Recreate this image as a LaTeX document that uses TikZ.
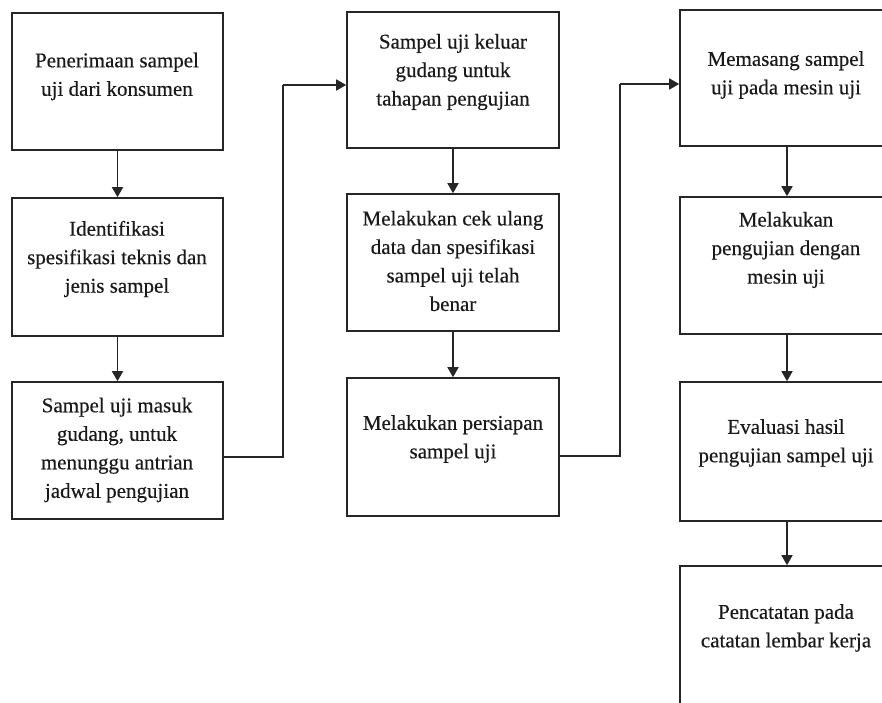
\documentclass[tikz,border=0pt]{standalone}
\usepackage{fontspec}
\setmainfont{Liberation Serif}[FakeBold=0.4]
\usetikzlibrary{arrows.meta}
\definecolor{ln}{HTML}{262626}
\definecolor{tx}{HTML}{1A1A1A}
\begin{document}
\begin{tikzpicture}[x=1pt,y=-1pt,
  box/.style={draw=ln,line width=1.6pt,rectangle,inner sep=0pt,minimum width=#1},
  box/.default=211pt,
  lbl/.style={align=center,text=tx,inner sep=0pt,font=\fontsize{21}{28.5}\selectfont},
  arr/.style={draw=ln,line width=1.6pt,-{Triangle[length=10pt,width=11pt]}},
  con/.style={draw=ln,line width=1.6pt}]
\useasboundingbox (0,0) rectangle (882,702);
\clip (0,0) rectangle (882,702);
% column 1
\node[box,minimum height=137pt] (b1) at (117.5,81.5) {};
\node[box,minimum height=138pt] (b2) at (117.5,267) {};
\node[box,minimum height=137pt] (b3) at (117.5,450.5) {};
% column 2
\node[box=212pt,minimum height=136pt] (b4) at (453,80) {};
\node[box=212pt,minimum height=137pt] (b5) at (453,262.5) {};
\node[box=212pt,minimum height=138pt] (b6) at (453,447) {};
% column 3
\node[box=214pt,minimum height=136pt] (b7) at (787,78) {};
\node[box=214pt,minimum height=137pt] (b8) at (787,265.5) {};
\node[box=214pt,minimum height=139pt] (b9) at (787,451.5) {};
\node[box=214pt,minimum height=150pt] (b10) at (787,641) {};
% texts
\node[lbl] (t1) at (117,76.5) {Penerimaan sampel\\uji dari konsumen};
\node[lbl] (t2) at (117,259) {Identifikasi\\spesifikasi teknis dan\\jenis sampel};
\node[lbl] (t3) at (117,450) {Sampel uji masuk\\gudang, untuk\\menunggu antrian\\jadwal pengujian};
\node[lbl] (t4) at (453,72) {Sampel uji keluar\\gudang untuk\\tahapan pengujian};
\node[lbl] (t5) at (453,261) {Melakukan cek ulang\\data dan spesifikasi\\sampel uji telah\\benar};
\node[lbl] (t6) at (453,439) {Melakukan persiapan\\sampel uji};
\node[lbl] (t7) at (786,75) {Memasang sampel\\uji pada mesin uji};
\node[lbl] (t8) at (786,250) {Melakukan\\pengujian dengan\\mesin uji};
\node[lbl] (t9) at (786,443) {Evaluasi hasil\\pengujian sampel uji};
\node[lbl] (t10) at (786,628) {Pencatatan pada\\catatan lembar kerja};
% vertical arrows
\draw[arr] (b1.south) -- (b2.north);
\draw[arr] (b2.south) -- (b3.north);
\draw[arr] (b4.south) -- (b5.north);
\draw[arr] (b5.south) -- (b6.north);
\draw[arr] (b7.south) -- (b8.north);
\draw[arr] (b8.south) -- (b9.north);
\draw[arr] (b9.south) -- (b10.north);
% connectors between columns
\coordinate (k1) at (283,457);
\coordinate (k2) at (283,85);
\coordinate (k3) at (620,456);
\coordinate (k4) at (620,84);
\draw[con] ([yshift=-6.5pt]b3.east) -- (k1) -- (k2);
\draw[arr] (k2) -- ([yshift=-5pt]b4.west);
\draw[con] ([yshift=-9pt]b6.east) -- (k3) -- (k4);
\draw[arr] (k4) -- ([yshift=-6pt]b7.west);
\end{tikzpicture}
\end{document}
